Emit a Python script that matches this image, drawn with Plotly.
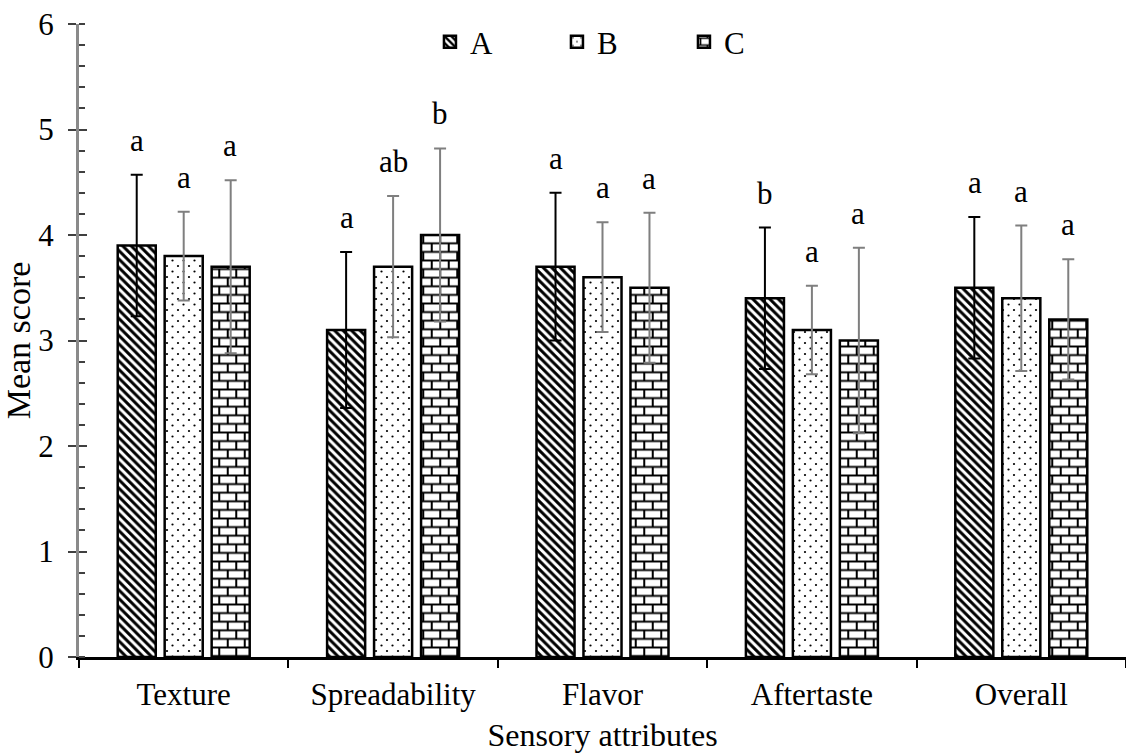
import plotly.graph_objects as go

# Sensory evaluation data
attributes = ["Texture", "Spreadability", "Flavor", "Aftertaste", "Overall"]
series_names = ["A", "B", "C"]

mean_a = [3.9, 3.1, 3.7, 3.4, 3.5]
mean_b = [3.8, 3.7, 3.6, 3.1, 3.4]
mean_c = [3.7, 4.0, 3.5, 3.0, 3.2]

sd_a = [0.67, 0.74, 0.70, 0.67, 0.67]
sd_b = [0.42, 0.67, 0.52, 0.42, 0.69]
sd_c = [0.82, 0.82, 0.71, 0.88, 0.57]

letters_a = ["a", "a", "a", "b", "a"]
letters_b = ["a", "ab", "a", "a", "a"]
letters_c = ["a", "b", "a", "a", "a"]

y_ticks = [0, 1, 2, 3, 4, 5, 6]

FONT = "Liberation Serif, Times New Roman, serif"
W, H = 1126, 755
M_L, M_R, M_T, M_B = 79, 0, 24, 98

means = [mean_a, mean_b, mean_c]
sds = [sd_a, sd_b, sd_c]
letters = [letters_a, letters_b, letters_c]
patterns = [
    dict(shape="\\", size=6, solidity=0.5, fgcolor="black", bgcolor="white", fgopacity=1),
    dict(shape=".", size=11, solidity=0.032, fgcolor="black", bgcolor="white", fgopacity=1),
    dict(shape="+", size=9, solidity=0.25, fgcolor="black", bgcolor="white", fgopacity=1),
]
err_colors = ["black", "#7f7f7f", "#7f7f7f"]

fig = go.Figure()
for name, m, s, pat, ec in zip(series_names, means, sds, patterns, err_colors):
    fig.add_trace(go.Bar(
        name=name, x=attributes, y=m,
        marker=dict(color="white", line=dict(color="black", width=2.5), pattern=pat),
        error_y=dict(type="data", array=s, visible=True, color=ec, thickness=2, width=6),
        hoverinfo="skip",
    ))

# significance letters above the error bars
for i, (m, s, lab) in enumerate(zip(means, sds, letters)):
    for j, attr in enumerate(attributes):
        fig.add_annotation(
            x=attr, y=m[j] + s[j], text=lab[j], showarrow=False,
            xref="x", yref="y", xshift=(i - 1) * 46.5, yshift=15,
            yanchor="bottom", font=dict(family=FONT, size=31, color="black"),
        )

fig.update_layout(
    width=W, height=H, autosize=False,
    margin=dict(l=M_L, r=M_R, t=M_T, b=M_B, pad=0),
    plot_bgcolor="white", paper_bgcolor="white",
    barmode="group", bargap=0.327, bargroupgap=0.19,
    font=dict(family=FONT, size=31, color="black"),
    showlegend=True,
    legend=dict(
        orientation="h", xref="paper", yref="paper",
        x=0.3352, y=0.9716, xanchor="left", yanchor="middle",
        entrywidth=82, entrywidthmode="pixels",
        font=dict(family=FONT, size=31, color="black"),
        itemwidth=30, bgcolor="rgba(0,0,0,0)",
    ),
    xaxis=dict(
        showline=True, linecolor="black", linewidth=2.5,
        ticks="outside", tickson="boundaries", ticklen=8, tickwidth=2, tickcolor="black",
        ticklabelstandoff=8,
        tickfont=dict(family=FONT, size=31, color="black"),
        title=dict(text="Sensory attributes", font=dict(family=FONT, size=32, color="black"), standoff=13),
        showgrid=False, zeroline=False,
    ),
    yaxis=dict(
        range=[0, 6], tickvals=y_ticks,
        showline=True, linecolor="#8a8a8a", linewidth=3,
        ticks="outside", ticklen=8, tickwidth=2, tickcolor="#404040",
        ticklabelstandoff=8,
        minor=dict(ticks="inside", dtick=0.2, ticklen=6, tickwidth=2, tickcolor="#404040"),
        tickfont=dict(family=FONT, size=31, color="black"),
        title=dict(text="Mean score", font=dict(family=FONT, size=34, color="black"), standoff=4),
        showgrid=False, zeroline=False,
    ),
    yaxis2=dict(
        range=[0, 6], tickvals=y_ticks, overlaying="y", anchor="x", side="left",
        showline=False, showticklabels=False, showgrid=False, zeroline=False,
        ticks="inside", ticklen=8, tickwidth=2, tickcolor="#404040",
    ),
)

# invisible trace so that the secondary axis with inward major ticks is drawn
fig.add_trace(go.Scatter(x=attributes, y=mean_a, yaxis="y2", mode="markers",
                         marker=dict(opacity=0), showlegend=False, hoverinfo="skip"))

# Turn the "+" grid fill into a running-bond brick pattern and stagger the dot fill
pattern_js = """
var gd = document.getElementById('{plot_id}');
function restyleFills() {
  var bw = 17, bh = 8.6;
  gd.querySelectorAll('pattern').forEach(function(p) {
    if (p.getAttribute('data-done')) return;
    var path = p.querySelector('path');
    var circ = p.querySelector('circle');
    if (circ) {
      var s = parseFloat(p.getAttribute('width'));
      [[0, 0], [s, 0], [0, s], [s, s]].forEach(function(c) {
        var cc = circ.cloneNode(true);
        cc.setAttribute('cx', c[0]);
        cc.setAttribute('cy', c[1]);
        p.appendChild(cc);
      });
      p.setAttribute('data-done', '1');
      return;
    }
    if (!path) return;
    var d = path.getAttribute('d') || '';
    // diagonal hatch paths carry negative coordinates; the "+" grid does not
    if (d.indexOf('-') !== -1) return;
    p.setAttribute('width', bw);
    p.setAttribute('height', 2 * bh);
    var rect = p.querySelector('rect');
    if (rect) { rect.setAttribute('width', bw); rect.setAttribute('height', 2 * bh); }
    var nd = 'M0,' + (bh / 2) + 'H' + bw + 'M0,' + (bh * 1.5) + 'H' + bw +
             'M' + (bw / 4) + ',' + (bh / 2) + 'V' + (bh * 1.5) +
             'M' + (bw * 3 / 4) + ',' + (bh * 1.5) + 'V' + (bh * 2) +
             'M' + (bw * 3 / 4) + ',0V' + (bh / 2);
    path.setAttribute('d', nd);
    path.style.strokeWidth = '2px';
    path.setAttribute('stroke-width', '2px');
    p.setAttribute('data-done', '1');
  });
}
restyleFills();
gd.on('plotly_afterplot', restyleFills);
setTimeout(restyleFills, 50);
setTimeout(restyleFills, 300);
"""

fig.write_html("out.html", post_script=pattern_js)
